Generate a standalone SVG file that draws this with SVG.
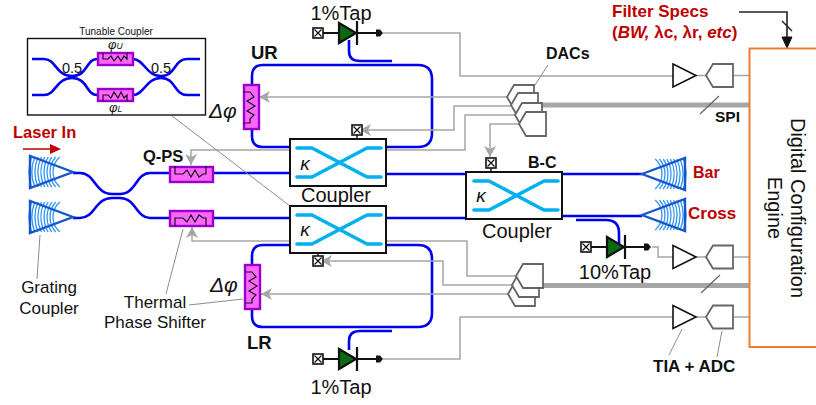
<svg xmlns="http://www.w3.org/2000/svg" xmlns:xlink="http://www.w3.org/1999/xlink" width="816" height="405" viewBox="0 0 816 405">
<style>
text{font-family:"Liberation Sans",Arial,sans-serif;fill:#111}
.b{font-weight:bold}
.r{fill:#c00000;font-weight:bold}
.i{font-style:italic}
.wg{fill:none;stroke:#0000f0;stroke-width:2.6}
.gl{fill:none;stroke:#a6a6a6;stroke-width:1.5}
.ld{fill:none;stroke:#8c8c8c;stroke-width:1}
.bus{fill:none;stroke:#a6a6a6;stroke-width:5}
.ps{fill:#ff66ff;stroke:#9900cc;stroke-width:2.4}
.res{fill:none;stroke:#111;stroke-width:1.2}
.box{fill:#fff;stroke:#111;stroke-width:2}
.xc{fill:none;stroke:#00b0f0;stroke-width:3.6;stroke-linecap:round;stroke-linejoin:round}
.adc{fill:#fff;stroke:#666;stroke-width:1.8}
.tia{fill:#fff;stroke:#111;stroke-width:1.6}
.arc{fill:none;stroke:#2f95f5;stroke-width:1.3}
.tri{fill:none;stroke:#1656cc;stroke-width:2.4}
</style>
<defs>
<marker id="ga" markerUnits="userSpaceOnUse" markerWidth="12" markerHeight="12" refX="11" refY="6" orient="auto"><path d="M0 0L11 6L0 12L3 6Z" fill="#a6a6a6"/></marker>
<g id="grat">
<path class="arc" d="M-13.2-15A20 20 0 0 0-13.2 15M-17.4-15A23 23 0 0 0-17.4 15M-21.2-15A26 26 0 0 0-21.2 15M-24.8-15A29 29 0 0 0-24.8 15M-28.3-15A32 32 0 0 0-28.3 15M-31.6-15A35 35 0 0 0-31.6 15M-34.9-15A38 38 0 0 0-34.9 15M-38.2-15A41 41 0 0 0-38.2 15M-41.4-15A44 44 0 0 0-41.4 15"/>
<path class="tri" d="M0 0L-43-16V16Z"/>
</g>
<g id="pad"><rect x="-5" y="-5" width="10" height="10" fill="#fff" stroke="#111" stroke-width="1.6"/><path d="M-3.5-3.5L3.5 3.5M-3.5 3.5L3.5-3.5" stroke="#111" stroke-width="1.2"/></g>
<g id="pd">
<path d="M5 0H58" stroke="#111" stroke-width="1.8"/>
<path d="M21-10L38 0L21 10Z" fill="#0b6b12" stroke="#111" stroke-width="2.2"/>
<path d="M39-12V12" stroke="#111" stroke-width="2.2"/>
<path d="M58-3.500H62L65 0L62 3.500H58Z" fill="#111"/>
<use xlink:href="#pad" href="#pad"/>
</g>
<g id="tia"><path class="tia" d="M0-11.500L23 0L0 11.500Z"/></g>
<path id="adc" class="adc" d="M0 0L7-11.500H27V11.500H7Z"/>
<path id="dac" class="adc" d="M0 0L7-12H27V12H7Z"/>
<g id="cross"><path class="xc" d="M0 0H15L70 29H84M0 29H15L70 0H84"/></g>
</defs>

<g id="connectors">
<path class="wg" d="M73 173H80C95 173 95 194 112 194H120C136 194 136 173 150 173H170M213 173H290M386 174H466M562 174H642"/>
<path class="wg" d="M73 218H80C95 218 95 198 112 198H120C136 198 136 218 150 218H170M213 218H290M386 218H466M562 216H642"/>
<path class="wg" d="M252 85V76Q252 65 263 65H418Q432 65 432 79V133Q432 147 418 147H386M252 129V136Q252 147 263 147H290"/>
<path class="wg" d="M386 245H418Q432 245 432 259V313Q432 327 418 327H263Q252 327 252 316V309M252 264V256Q252 245 263 245H290"/>
<path class="wg" d="M349 40V51Q349 61 360 61H392M349 350V341Q349 331 360 331H392M576 220H606Q619 220 619 233V245"/>
<path class="gl" d="M383 33H460V76H673"/>
<path class="gl" d="M383 359H460V317H673"/>
<path class="gl" d="M652 247H658V257H673"/>
<path class="gl" d="M696 75.500H706M733 75.500H749M696 257H706M733 257H749M696 317H706M733 317H749"/>
<path class="gl" marker-end="url(#ga)" d="M510 97H259"/>
<path class="gl" marker-end="url(#ga)" d="M514 106H454V130H360"/>
<path class="gl" marker-end="url(#ga)" d="M518 115H465V150H191V165"/>
<path class="gl" marker-end="url(#ga)" d="M522 124H490V157"/>
<path class="gl" marker-end="url(#ga)" d="M520 276H467V241H192V227"/>
<path class="gl" marker-end="url(#ga)" d="M516 285H443V261H321"/>
<path class="gl" marker-end="url(#ga)" d="M511 294H261"/>
<path class="bus" d="M541 105H749M541 285.500H749"/>
<path d="M700 114L719 96M701 293L720 275" stroke="#666" stroke-width="1.2" fill="none"/>
<path class="ld" d="M172 116L290 206M40 235L37 279M183 229L166 294M189 305L243 299M533 88L548 65M682 329L669 355M722 331L717 357"/>
<path d="M739 12H787V40" stroke="#222" stroke-width="1.6" fill="none"/>
<path d="M782 21L792 31" stroke="#222" stroke-width="1.4"/>
<path d="M782 37H792L787 48Z" fill="#111" stroke="#111"/>
<path d="M23 149H52" stroke="#c00000" stroke-width="1.5"/>
<path d="M50 144L61 149L50 154Z" fill="#c00000"/>
</g>

<g id="tunable-coupler">
<text x="116" y="35" font-size="10" text-anchor="middle">Tunable Coupler</text>
<rect x="27.500" y="38.500" width="178" height="76.500" fill="#fff" stroke="#111" stroke-width="1.400"/>
<path class="wg" d="M32 59H44C56 59 56 76 72 76C88 76 86 59 97 59M133 59C144 59 146 76 161 76C176 76 174 59 187 59H200"/>
<path class="wg" d="M32 95H44C56 95 56 78 72 78C88 78 86 95 97 95M133 95C144 95 146 78 161 78C176 78 174 95 187 95H200"/>
<rect class="ps" x="98" y="53" width="35" height="12"/>
<path class="res" d="M103 53V59H108L111 56L114 61L118 56L121 61L124 56L127 59V53"/>
<rect class="ps" x="98" y="89" width="35" height="12"/>
<path class="res" d="M103 101V95H108L111 98L114 92L118 98L121 92L124 98L127 95V101"/>
<text x="72" y="73" font-size="14.500" text-anchor="middle">0.5</text>
<text x="161" y="73" font-size="14.500" text-anchor="middle">0.5</text>
<text x="108" y="49" font-size="13" class="i">φ<tspan font-size="8.500">U</tspan></text>
<text x="109" y="112" font-size="13" class="i">φ<tspan font-size="8.500">L</tspan></text>
</g>

<g id="grating-in-1"><use xlink:href="#grat" href="#grat" x="73" y="172"/></g>
<g id="grating-in-2"><use xlink:href="#grat" href="#grat" x="73" y="217"/></g>
<g id="grating-bar"><use xlink:href="#grat" href="#grat" transform="translate(642 174) scale(-1 1)"/></g>
<g id="grating-cross"><use xlink:href="#grat" href="#grat" transform="translate(642 215) scale(-1 1)"/></g>

<g id="q-ps">
<rect class="ps" x="170" y="167" width="43" height="15"/>
<path class="res" d="M175 166V174H183L187 170L191 177L195 170L199 177L203 174H206V166"/>
</g>
<g id="lower-ps">
<rect class="ps" x="170" y="211" width="43" height="15"/>
<path class="res" d="M175 226V218H183L187 222L191 215L195 222L199 215L203 218H206V226"/>
</g>
<g id="ur-ps">
<rect class="ps" x="244" y="85" width="15" height="44"/>
<path class="res" d="M243 92H250L254 97L247 101L255 106L247 111L254 115L250 119V123H243"/>
</g>
<g id="lr-ps">
<rect class="ps" x="245" y="265" width="15" height="44"/>
<path class="res" d="M245 272H252L256 277L249 281L257 286L249 291L256 295L252 299V303H245"/>
</g>

<g id="upper-coupler">
<path d="M357 135V139" stroke="#111" stroke-width="1.4"/>
<use xlink:href="#pad" href="#pad" x="357" y="130"/>
<rect class="box" x="290" y="139" width="96" height="47"/>
<use xlink:href="#cross" href="#cross" x="297" y="148"/>
<text x="305" y="170" font-size="19" class="i" text-anchor="middle">κ</text>
<text x="336" y="202" font-size="20" text-anchor="middle">Coupler</text>
</g>
<g id="lower-coupler">
<path d="M318 253V257" stroke="#111" stroke-width="1.4"/>
<use xlink:href="#pad" href="#pad" x="318" y="261"/>
<rect class="box" x="290" y="206" width="96" height="47"/>
<use xlink:href="#cross" href="#cross" x="297" y="215"/>
<text x="305" y="236" font-size="19" class="i" text-anchor="middle">κ</text>
</g>
<g id="bc-coupler">
<path d="M491 168V172" stroke="#111" stroke-width="1.4"/>
<use xlink:href="#pad" href="#pad" x="491" y="163"/>
<rect class="box" x="466" y="172" width="96" height="47"/>
<use xlink:href="#cross" href="#cross" x="474" y="181"/>
<text x="481" y="202" font-size="19" class="i" text-anchor="middle">κ</text>
<text x="517" y="238" font-size="20" text-anchor="middle">Coupler</text>
<text x="528" y="168" font-size="16" class="b">B-C</text>
</g>

<g id="tap-upper"><use xlink:href="#pd" href="#pd" x="318" y="33"/><text x="341" y="20" font-size="20" text-anchor="middle">1%Tap</text></g>
<g id="tap-lower"><use xlink:href="#pd" href="#pd" x="318" y="359"/><text x="341" y="394" font-size="20" text-anchor="middle">1%Tap</text></g>
<g id="tap-mid"><use xlink:href="#pd" href="#pd" x="586" y="247"/><text x="615" y="279" font-size="20" text-anchor="middle">10%Tap</text></g>

<g id="dacs-upper">
<use xlink:href="#dac" href="#dac" x="507" y="97"/>
<use xlink:href="#dac" href="#dac" x="511" y="105"/>
<use xlink:href="#dac" href="#dac" x="515" y="115"/>
<use xlink:href="#dac" href="#dac" x="519" y="124"/>
<text x="546" y="59" font-size="16" class="b">DACs</text>
</g>
<g id="dacs-lower">
<use xlink:href="#dac" href="#dac" x="508" y="294"/>
<use xlink:href="#dac" href="#dac" x="512" y="285"/>
<use xlink:href="#dac" href="#dac" x="516" y="276"/>
</g>

<g id="readout-1"><use xlink:href="#tia" href="#tia" x="673" y="75.500"/><use xlink:href="#adc" href="#adc" x="706" y="75.500"/></g>
<g id="readout-2"><use xlink:href="#tia" href="#tia" x="673" y="257"/><use xlink:href="#adc" href="#adc" x="706" y="257"/></g>
<g id="readout-3"><use xlink:href="#tia" href="#tia" x="673" y="317"/><use xlink:href="#adc" href="#adc" x="706" y="317"/></g>

<g id="engine">
<path d="M820 48.500H749.500V347H820" fill="#fff" stroke="#ed7d31" stroke-width="2"/>
<text transform="translate(791 208) rotate(90)" font-size="20" text-anchor="middle">Digital Configuration</text>
<text transform="translate(768 208) rotate(90)" font-size="20" text-anchor="middle">Engine</text>
</g>

<g id="labels">
<text x="13" y="138" font-size="16.500" class="r">Laser In</text>
<text x="143" y="162" font-size="16.500" class="b">Q-PS</text>
<text x="251" y="59" font-size="18.500" class="b">UR</text>
<text x="247" y="349" font-size="18.500" class="b">LR</text>
<text x="209" y="118" font-size="21" class="i">Δφ</text>
<text x="210" y="292" font-size="21" class="i">Δφ</text>
<text x="49" y="293" font-size="17" text-anchor="middle">Grating</text>
<text x="49" y="314" font-size="17" text-anchor="middle">Coupler</text>
<text x="155" y="308" font-size="17" text-anchor="middle">Thermal</text>
<text x="155" y="328" font-size="17" text-anchor="middle">Phase Shifter</text>
<text x="612" y="17" font-size="17" class="r">Filter Specs</text>
<text x="612" y="38" font-size="17" class="r">(<tspan class="i">BW, </tspan>λc, λr, <tspan class="i">etc</tspan>)</text>
<text x="715" y="122" font-size="15.500" class="b">SPI</text>
<text x="693" y="178" font-size="16" class="r">Bar</text>
<text x="688" y="219" font-size="17" class="r">Cross</text>
<text x="653" y="372" font-size="17" class="b">TIA + ADC</text>
</g>
</svg>
